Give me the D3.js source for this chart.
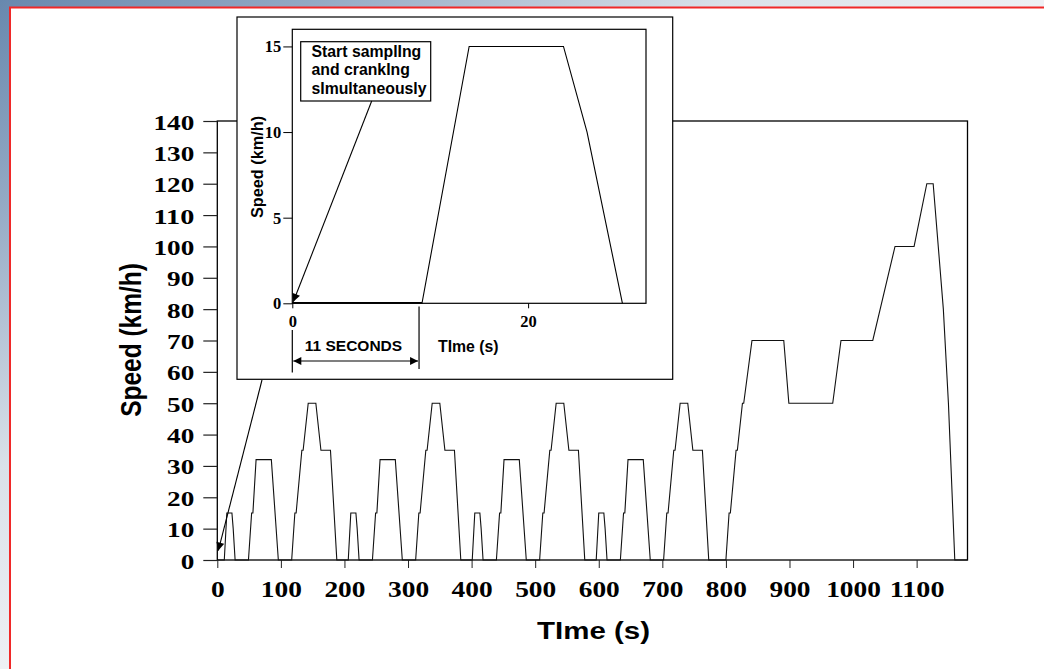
<!DOCTYPE html>
<html>
<head>
<meta charset="utf-8">
<script src="https://cdn.jsdelivr.net/npm/d3@7"></script>
<style>
html, body { margin: 0; padding: 0; overflow: hidden; background: #fff; }
svg { display: block; }
.serif { font-family: "Liberation Serif", "Times New Roman", serif; font-weight: bold; }
.sans { font-family: "Liberation Sans", Arial, sans-serif; font-weight: bold; }
</style>
</head>
<body>
<svg id="chart"></svg>
<script>
// driving cycle: 4 x ECE-15 urban cycle, then EUDC
const cycleTime = [
  0, 11, 15, 23, 25, 28, 49, 54, 56, 61, 85, 96, 117, 122, 124, 133, 135, 143, 155, 163, 176, 178, 188,
  206, 210, 218, 220, 223, 244, 249, 251, 256, 280, 291, 312, 317, 319, 328, 330, 338, 350, 358, 371, 373, 383,
  401, 405, 413, 415, 418, 439, 444, 446, 451, 475, 486, 507, 512, 514, 523, 525, 533, 545, 553, 566, 568, 578,
  596, 600, 608, 610, 613, 634, 639, 641, 646, 670, 681, 702, 707, 709, 718, 720, 728, 740, 748, 761, 763, 773,
  800, 805, 807, 816, 818, 826, 828, 841, 891, 899, 968, 981, 1031, 1066, 1096, 1116, 1126, 1142, 1150, 1160, 1180
];
const cycleSpeed = [
  0, 0, 15, 15, 10, 0, 0, 15, 15, 32, 32, 0, 0, 15, 15, 35, 35, 50, 50, 35, 35, 35, 0,
  0, 15, 15, 10, 0, 0, 15, 15, 32, 32, 0, 0, 15, 15, 35, 35, 50, 50, 35, 35, 35, 0,
  0, 15, 15, 10, 0, 0, 15, 15, 32, 32, 0, 0, 15, 15, 35, 35, 50, 50, 35, 35, 35, 0,
  0, 15, 15, 10, 0, 0, 15, 15, 32, 32, 0, 0, 15, 15, 35, 35, 50, 50, 35, 35, 35, 0,
  0, 15, 15, 35, 35, 50, 50, 70, 70, 50, 50, 70, 70, 100, 100, 120, 120, 80, 50, 0, 0
];
const xTicks = [0, 100, 200, 300, 400, 500, 600, 700, 800, 900, 1000, 1100];
const yTicks = [0, 10, 20, 30, 40, 50, 60, 70, 80, 90, 100, 110, 120, 130, 140];

// inset: first seconds of the cycle
const insetTime = [0, 11, 15, 23, 25, 28];
const insetSpeed = [0, 0, 15, 15, 10, 0];
const insetXTicks = [0, 20];
const insetYTicks = [0, 5, 10, 15];
const noteLines = ["Start samplIng", "and crankIng", "sImultaneously"];

const W = 1044, H = 669;
const svg = d3.select("#chart").attr("width", W).attr("height", H);
const defs = svg.append("defs");

// slide background
const grad = defs.append("linearGradient").attr("id", "bg")
  .attr("x1", 0).attr("y1", 0).attr("x2", 1).attr("y2", 1);
grad.append("stop").attr("offset", 0).attr("stop-color", "#6888ae");
grad.append("stop").attr("offset", 0.15).attr("stop-color", "#93a9c4");
grad.append("stop").attr("offset", 0.35).attr("stop-color", "#dae1e9");
grad.append("stop").attr("offset", 0.5).attr("stop-color", "#eef0f4");
grad.append("stop").attr("offset", 1).attr("stop-color", "#f5f6f8");
svg.append("rect").attr("width", W).attr("height", H).attr("fill", "url(#bg)");
svg.append("rect").attr("x", 10).attr("y", 8).attr("width", W - 10).attr("height", H - 8).attr("fill", "#fff");
svg.append("line").attr("x1", 9).attr("x2", W).attr("y1", 7.5).attr("y2", 7.5)
  .attr("stroke", "#f02828").attr("stroke-width", 2);
svg.append("line").attr("x1", 10).attr("x2", 10).attr("y1", 7).attr("y2", H)
  .attr("stroke", "#f02828").attr("stroke-width", 2);

defs.append("marker").attr("id", "head")
  .attr("viewBox", "0 0 10 10").attr("refX", 10).attr("refY", 5)
  .attr("markerUnits", "userSpaceOnUse").attr("markerWidth", 9).attr("markerHeight", 8)
  .attr("orient", "auto-start-reverse")
  .append("path").attr("d", "M0,0L10,5L0,10Z").attr("fill", "#000");

// ---- main chart ----
const x = d3.scaleLinear().domain([0, 1180]).range([217.3, 967.5]);
const y = d3.scaleLinear().domain([0, 140]).range([560, 121]);

const main = svg.append("g");
main.append("rect")
  .attr("x", x(0)).attr("y", y(140))
  .attr("width", x(1180) - x(0)).attr("height", y(0) - y(140))
  .attr("fill", "none").attr("stroke", "#000").attr("stroke-width", 1.3);

main.append("g").attr("transform", `translate(0,${y(0)})`)
  .call(d3.axisBottom(x).tickValues(xTicks).tickSize(8).tickFormat(d3.format("d")))
  .call(g => g.select(".domain").remove())
  .call(g => g.selectAll(".tick line").attr("stroke", "#222"))
  .call(g => g.selectAll(".tick text")
    .attr("class", "serif").attr("font-size", 23).attr("fill", "#000")
    .attr("y", 37).attr("dy", null)
    .attr("textLength", d => String(d).length * 13.7).attr("lengthAdjust", "spacingAndGlyphs"));

main.append("g").attr("transform", `translate(${x(0)},0)`)
  .call(d3.axisLeft(y).tickValues(yTicks).tickSize(14).tickFormat(d3.format("d")))
  .call(g => g.select(".domain").remove())
  .call(g => g.selectAll(".tick line").attr("stroke", "#222").attr("stroke-width", 1.2))
  .call(g => g.selectAll(".tick text")
    .attr("class", "serif").attr("font-size", 22).attr("fill", "#000")
    .attr("x", -23).attr("y", 8).attr("dy", null)
    .attr("textLength", d => String(d).length * 13.6).attr("lengthAdjust", "spacingAndGlyphs"));

const line = d3.line().x(d => x(d[0])).y(d => y(d[1]));
main.append("path")
  .datum(d3.zip(cycleTime, cycleSpeed))
  .attr("d", line)
  .attr("fill", "none").attr("stroke", "#111").attr("stroke-width", 1.1);

main.append("text").attr("class", "sans")
  .attr("x", 537).attr("y", 639).attr("font-size", 23)
  .attr("textLength", 113).attr("lengthAdjust", "spacingAndGlyphs")
  .text("TIme (s)");

main.append("text").attr("class", "sans")
  .attr("transform", "translate(141,340) scale(1.2,1) rotate(-90)")
  .attr("text-anchor", "middle").attr("font-size", 24.5)
  .text("Speed (km/h)");

// pointer from the inset to the start of the cycle
main.append("line")
  .attr("x1", 262).attr("y1", 380)
  .attr("x2", x(0) + 1).attr("y2", y(3))
  .attr("stroke", "#000").attr("stroke-width", 1.1)
  .attr("marker-end", "url(#head)");

// ---- inset ----
const inset = svg.append("g");
inset.append("rect")
  .attr("x", 237).attr("y", 17).attr("width", 435.7).attr("height", 362.3)
  .attr("fill", "#fff").attr("stroke", "#000").attr("stroke-width", 1.2);

const ix = d3.scaleLinear().domain([0, 30]).range([292.3, 646]);
const iy = d3.scaleLinear().domain([0, 16]).range([303.3, 29.3]);

inset.append("rect")
  .attr("x", ix(0)).attr("y", iy(16))
  .attr("width", ix(30) - ix(0)).attr("height", iy(0) - iy(16))
  .attr("fill", "none").attr("stroke", "#000").attr("stroke-width", 1.2);

inset.append("g").attr("transform", `translate(0,${iy(0)})`)
  .call(d3.axisBottom(ix).tickValues(insetXTicks).tickSize(5).tickFormat(d3.format("d")))
  .call(g => g.select(".domain").remove())
  .call(g => g.selectAll(".tick text")
    .attr("class", "serif").attr("font-size", 16.5).attr("fill", "#000")
    .attr("y", 23.5).attr("dy", null));

inset.append("g").attr("transform", `translate(${ix(0)},0)`)
  .call(d3.axisLeft(iy).tickValues(insetYTicks).tickSize(9).tickFormat(d3.format("d")))
  .call(g => g.select(".domain").remove())
  .call(g => g.selectAll(".tick text")
    .attr("class", "serif").attr("font-size", 16.5).attr("fill", "#000")
    .attr("x", -11).attr("y", 5.5).attr("dy", null));

const iline = d3.line().x(d => ix(d[0])).y(d => iy(d[1]));
inset.append("path")
  .datum(d3.zip(insetTime, insetSpeed))
  .attr("d", iline)
  .attr("fill", "none").attr("stroke", "#000").attr("stroke-width", 1.1);
inset.append("line")
  .attr("x1", ix(0)).attr("x2", ix(11)).attr("y1", iy(0) - 0.8).attr("y2", iy(0) - 0.8)
  .attr("stroke", "#000").attr("stroke-width", 1.2);

inset.append("text").attr("class", "sans")
  .attr("transform", "translate(262.5,167) rotate(-90)")
  .attr("text-anchor", "middle").attr("font-size", 16.3)
  .text("Speed (km/h)");
inset.append("text").attr("class", "sans")
  .attr("x", 438).attr("y", 351.5).attr("font-size", 15.8)
  .text("TIme (s)");

// 11 seconds dimension
const dimEnd = ix(10.75);
inset.append("line").attr("x1", ix(0)).attr("x2", ix(0)).attr("y1", 330).attr("y2", 372.5)
  .attr("stroke", "#000").attr("stroke-width", 1.2);
inset.append("line").attr("x1", dimEnd).attr("x2", dimEnd).attr("y1", 306.5).attr("y2", 369)
  .attr("stroke", "#000").attr("stroke-width", 1.2);
inset.append("line").attr("x1", ix(0) + 1).attr("x2", dimEnd - 1).attr("y1", 361).attr("y2", 361)
  .attr("stroke", "#000").attr("stroke-width", 1.2)
  .attr("marker-start", "url(#head)").attr("marker-end", "url(#head)");
inset.append("text").attr("class", "sans")
  .attr("x", 353.5).attr("y", 351).attr("text-anchor", "middle").attr("font-size", 15.5)
  .text("11 SECONDS");

// annotation box
inset.append("rect")
  .attr("x", 300.7).attr("y", 41.7).attr("width", 130).attr("height", 59.3)
  .attr("fill", "#fff").attr("stroke", "#000").attr("stroke-width", 1.2);
inset.selectAll("text.note").data(noteLines).join("text")
  .attr("class", "note sans")
  .attr("x", 311.5).attr("y", (d, i) => 57 + i * 18.3)
  .attr("font-size", 15.8)
  .text(d => d);
inset.append("line")
  .attr("x1", 371.7).attr("y1", 101)
  .attr("x2", ix(0) + 1).attr("y2", iy(0) - 1.5)
  .attr("stroke", "#000").attr("stroke-width", 1.1)
  .attr("marker-end", "url(#head)");
</script>
</body>
</html>
